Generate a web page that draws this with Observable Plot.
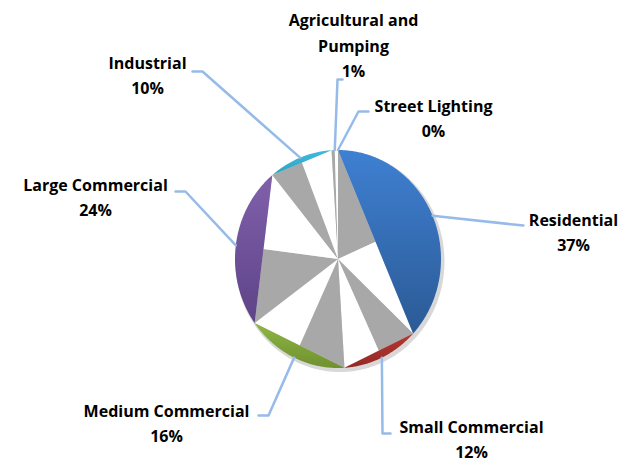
<!DOCTYPE html>
<html><head><meta charset="utf-8">
<script src="https://cdn.jsdelivr.net/npm/d3@7"></script>
<script src="https://cdn.jsdelivr.net/npm/@observablehq/plot@0.6"></script>
<style>body{margin:0;background:#fff} svg{display:block}</style>
</head><body><div id="chart"></div>
<script>
// ---- data ----
const categories = ["Residential","Small Commercial","Medium Commercial","Large Commercial","Industrial","Agricultural and Pumping","Street Lighting"];
const labelText = ["Residential","Small Commercial","Medium Commercial","Large Commercial","Industrial","Agricultural and\nPumping","Street Lighting"];
const shares = [37,12,16,24,10,1,0];

// ---- styles / layout ----
const gradStops = [
  ["#3F80D2","#2B5A95"],
  ["#B4382F","#952925"],
  ["#8EB645","#70912F"],
  ["#8060AB","#5E4388"],
  ["#40BBDC","#2CA2C3"],
  ["#F79646","#E07F30"],
  ["#CCCCCC","#AAAAAA"]
];
const W = 629, H = 461, cx = 337.5, cy = 258.5, rx = 103, ry = 109;
const labelPos = [[573,230],[471,437],[166,421],[95,195],[147,73],[353,43],[433,116]];
const elbows = [
  [[513,224],[523,225]],
  [[382,433],[390,433]],
  [[268,415],[258,415]],
  [[185,191],[175,191]],
  [[202,71],[192,71]],
  [[337,79],[342,79]],
  [[358,111],[368,111]]
];

const pt = a => [cx + rx*Math.sin(a), cy - ry*Math.cos(a)];
const arcs = d3.pie().sort(null).value(d => d)(shares);

const crescent = [], tris = [], leaders = [], labels = [], shadow = [];
for (let k = 0; k <= 180; k++) {
  const a = k/180*2*Math.PI;
  shadow.push({x: cx + 2 + (rx+1.5)*Math.sin(a), y: cy + 2.5 - (ry+1.5)*Math.cos(a)});
}
arcs.forEach((s, i) => {
  const a0 = s.startAngle, a1 = s.endAngle;
  const mid = (a0 + a1)/2;
  if (a1 - a0 > 1e-6) {
    const n = Math.max(2, Math.ceil((a1-a0)/0.01));
    for (let k = 0; k <= n; k++) {
      const [x,y] = pt(a0 + (a1-a0)*k/n);
      crescent.push({id: i, x, y, fill: `url(#g${i})`});
    }
    const A = pt(a0), B = pt(a1), M = [(A[0]+B[0])/2, (A[1]+B[1])/2];
    [[cx,cy],A,M].forEach(p => tris.push({id: "g"+i, x: p[0], y: p[1], fill: "url(#dots)"}));
    [[cx,cy],M,B].forEach(p => tris.push({id: "w"+i, x: p[0], y: p[1], fill: "white"}));
  }
  const e = pt(mid);
  [e, elbows[i][0], elbows[i][1]].forEach(p => leaders.push({id: i, x: p[0], y: p[1]}));
  labels.push({x: labelPos[i][0], y: labelPos[i][1], text: `${labelText[i]}\n${Math.round(shares[i])}%`});
});

const svg = Plot.plot({
  width: W, height: H, margin: 0,
  x: {domain: [0, W], range: [0, W], axis: null},
  y: {domain: [0, H], range: [0, H], axis: null},
  color: {type: "identity"},
  marks: [
    Plot.line(shadow, {x: "x", y: "y", fill: "url(#dots)", stroke: null, fillOpacity: 0.45}),
    Plot.line(tris, {x: "x", y: "y", z: "id", fill: "fill", stroke: null}),
    Plot.line(crescent, {x: "x", y: "y", z: "id", fill: "fill", stroke: null}),
    Plot.line(leaders, {x: "x", y: "y", z: "id", stroke: "#97BBE8", strokeWidth: 2.5, curve: "linear"}),
    Plot.text(labels, {x: "x", y: "y", text: "text", fontFamily: "Open Sans", fontWeight: "bold", fontSize: 16, lineHeight: 1.6, fill: "black", textAnchor: "middle"})
  ]
});
const defs = d3.select(svg).insert("defs", ":first-child");
const pat = defs.append("pattern").attr("id","dots").attr("patternUnits","userSpaceOnUse").attr("width",2).attr("height",2);
pat.append("rect").attr("width",2).attr("height",2).attr("fill","#d0d0d0");
pat.append("rect").attr("width",1).attr("height",1).attr("fill","#808080");
pat.append("rect").attr("x",1).attr("y",1).attr("width",1).attr("height",1).attr("fill","#808080");
gradStops.forEach((c, i) => {
  const g = defs.append("linearGradient").attr("id","g"+i).attr("x1",0).attr("y1",0).attr("x2",0).attr("y2",1);
  g.append("stop").attr("offset","0%").attr("stop-color",c[0]);
  g.append("stop").attr("offset","100%").attr("stop-color",c[1]);
});
document.getElementById("chart").appendChild(svg);
</script>
</body></html>
